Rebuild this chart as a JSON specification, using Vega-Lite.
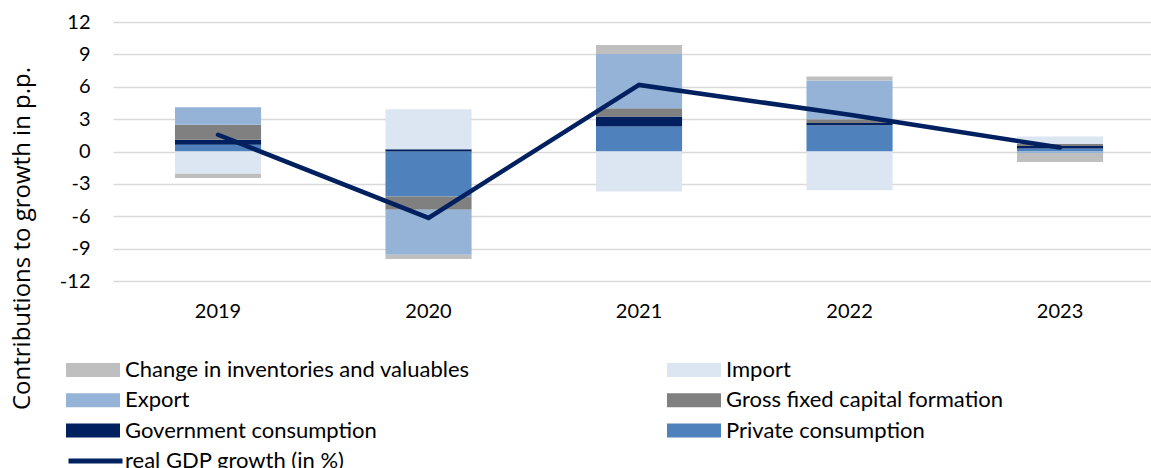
{
  "$schema": "https://vega.github.io/schema/vega-lite/v6.json",
  "width": 1038,
  "height": 259,
  "autosize": {"type": "none"},
  "padding": {"left": 113, "top": 22, "right": 0, "bottom": 187},
  "background": "white",
  "config": {"view": {"stroke": null}, "font": "Lato"},
  "datasets": {
    "bars": [
      {"year": "2019", "series": "Private consumption", "value": 0.62},
      {"year": "2019", "series": "Government consumption", "value": 0.46},
      {"year": "2019", "series": "Gross fixed capital formation", "value": 1.39},
      {"year": "2019", "series": "Export", "value": 1.64},
      {"year": "2019", "series": "Import", "value": -2.06},
      {"year": "2019", "series": "Change in inventories and valuables", "value": -0.40},
      {"year": "2020", "series": "Private consumption", "value": -4.16},
      {"year": "2020", "series": "Government consumption", "value": 0.22},
      {"year": "2020", "series": "Gross fixed capital formation", "value": -1.23},
      {"year": "2020", "series": "Export", "value": -4.17},
      {"year": "2020", "series": "Import", "value": 3.70},
      {"year": "2020", "series": "Change in inventories and valuables", "value": -0.39},
      {"year": "2021", "series": "Private consumption", "value": 2.31},
      {"year": "2021", "series": "Government consumption", "value": 0.93},
      {"year": "2021", "series": "Gross fixed capital formation", "value": 0.77},
      {"year": "2021", "series": "Export", "value": 5.03},
      {"year": "2021", "series": "Import", "value": -3.70},
      {"year": "2021", "series": "Change in inventories and valuables", "value": 0.83},
      {"year": "2022", "series": "Private consumption", "value": 2.44},
      {"year": "2022", "series": "Government consumption", "value": 0.19},
      {"year": "2022", "series": "Gross fixed capital formation", "value": 0.37},
      {"year": "2022", "series": "Export", "value": 3.57},
      {"year": "2022", "series": "Import", "value": -3.60},
      {"year": "2022", "series": "Change in inventories and valuables", "value": 0.37},
      {"year": "2023", "series": "Private consumption", "value": 0.28},
      {"year": "2023", "series": "Government consumption", "value": 0.24},
      {"year": "2023", "series": "Gross fixed capital formation", "value": 0.19},
      {"year": "2023", "series": "Export", "value": -0.15},
      {"year": "2023", "series": "Import", "value": 0.68},
      {"year": "2023", "series": "Change in inventories and valuables", "value": -0.83}
    ],
    "gdp": [
      {"year": "2019", "series": "real GDP growth (in %)", "gdp": 1.55},
      {"year": "2020", "series": "real GDP growth (in %)", "gdp": -6.15},
      {"year": "2021", "series": "real GDP growth (in %)", "gdp": 6.17},
      {"year": "2022", "series": "real GDP growth (in %)", "gdp": 3.4},
      {"year": "2023", "series": "real GDP growth (in %)", "gdp": 0.37}
    ]
  },
  "layer": [
    {
      "data": {"name": "bars"},
      "transform": [
        {"stack": "value", "groupby": ["year"], "offset": "zero", "as": ["v0", "v1"]}
      ],
      "mark": {"type": "bar"},
      "encoding": {
        "x": {
          "field": "year",
          "type": "nominal",
          "scale": {"paddingInner": 0.591, "paddingOuter": 0.261, "align": 0.564},
          "axis": {
            "title": null,
            "domain": false,
            "ticks": false,
            "grid": false,
            "labelAngle": 0,
            "labelFont": "Lato",
            "labelFontSize": 20,
            "labelColor": "#000000",
            "labelPadding": 20
          }
        },
        "y": {
          "field": "v0",
          "type": "quantitative",
          "scale": {"domain": [-12, 12], "nice": false, "zero": false},
          "axis": {
            "values": [-12, -9, -6, -3, 0, 3, 6, 9, 12],
            "labelExpr": "datum.value < 0 ? '-' + abs(datum.value) : '' + datum.value",
            "labelOverlap": false,
            "domain": false,
            "ticks": false,
            "grid": true,
            "gridColor": "#D9D9D9",
            "gridWidth": 1.3,
            "labelFont": "Lato",
            "labelFontSize": 20,
            "labelColor": "#000000",
            "labelPadding": 23,
            "title": "Contributions to growth in p.p.",
            "titleFont": "Open Sans",
            "titleFontSize": 24,
            "titleFontWeight": "normal",
            "titleColor": "#000000",
            "titleAngle": 270,
            "titleAlign": "center",
            "titleBaseline": "alphabetic",
            "titleX": -84,
            "titleY": 216
          }
        },
        "y2": {"field": "v1"},
        "color": {
          "field": "series",
          "type": "nominal",
          "scale": {
            "domain": [
              "Change in inventories and valuables",
              "Export",
              "Government consumption",
              "Import",
              "Gross fixed capital formation",
              "Private consumption"
            ],
            "range": ["#BFBFBF", "#95B3D7", "#002060", "#DCE6F2", "#808080", "#4F81BD"]
          },
          "legend": {
            "orient": "none",
            "legendX": -47,
            "legendY": 338,
            "columns": 2,
            "columnPadding": 197,
            "rowPadding": 8.3,
            "clipHeight": 20,
            "title": null,
            "labelFont": "Lato",
            "labelFontSize": 22,
            "labelColor": "#000000",
            "labelOffset": 5,
            "labelLimit": 600,
            "symbolSize": 2916,
            "symbolType": "M-1,-0.26H1V0.26H-1Z",
            "symbolStrokeWidth": 0
          }
        }
      }
    },
    {
      "data": {"name": "gdp"},
      "mark": {"type": "line", "strokeWidth": 4.5, "strokeCap": "round", "strokeJoin": "miter"},
      "encoding": {
        "x": {"field": "year", "type": "nominal"},
        "y": {
          "field": "gdp",
          "type": "quantitative",
          "axis": {
            "values": [-12, -9, -6, -3, 0, 3, 6, 9, 12],
            "labelExpr": "datum.value < 0 ? '-' + abs(datum.value) : '' + datum.value",
            "labelOverlap": false,
            "domain": false,
            "ticks": false,
            "grid": true,
            "gridColor": "#D9D9D9",
            "gridWidth": 1.3,
            "labelFont": "Lato",
            "labelFontSize": 20,
            "labelColor": "#000000",
            "labelPadding": 23,
            "title": "Contributions to growth in p.p.",
            "titleFont": "Open Sans",
            "titleFontSize": 24,
            "titleFontWeight": "normal",
            "titleColor": "#000000",
            "titleAngle": 270,
            "titleAlign": "center",
            "titleBaseline": "alphabetic",
            "titleX": -84,
            "titleY": 216
          }
        },
        "stroke": {
          "field": "series",
          "type": "nominal",
          "scale": {"domain": ["real GDP growth (in %)"], "range": ["#002060"]},
          "legend": {
            "orient": "none",
            "legendX": -47,
            "legendY": 429,
            "clipHeight": 20,
            "title": null,
            "labelFont": "Lato",
            "labelFontSize": 22,
            "labelColor": "#000000",
            "labelOffset": 0,
            "labelLimit": 600,
            "symbolSize": 2916,
            "symbolType": "stroke",
            "symbolStrokeWidth": 5
          }
        }
      }
    }
  ]
}
